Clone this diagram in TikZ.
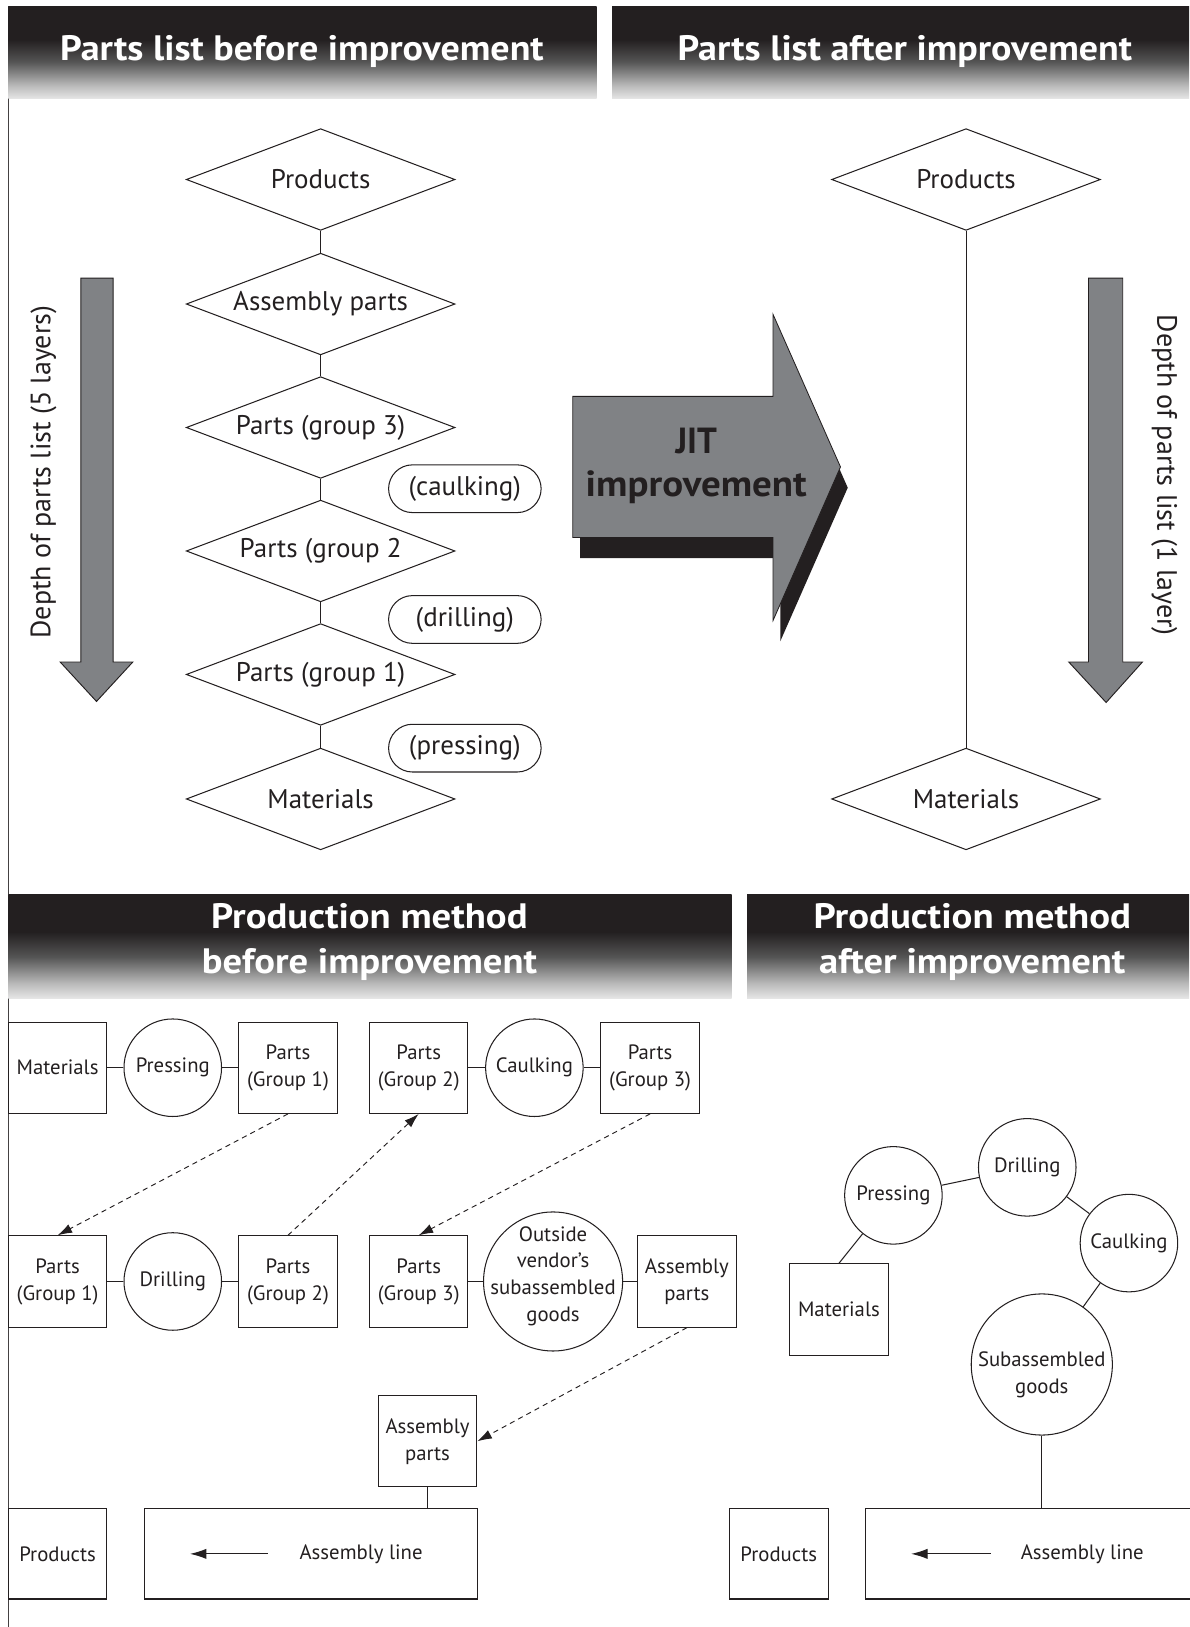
\documentclass[tikz,border=0pt]{standalone}
\usepackage{fontspec}
\usepackage{graphicx}
\setmainfont{PT Sans}
\usetikzlibrary{shapes.geometric,arrows.meta,calc}

\definecolor{ink}{HTML}{231F20}
\definecolor{steel}{HTML}{808285}

% dark-to-white band used behind the section titles
\pgfdeclareverticalshading{bandshade}{100bp}{%
  color(0bp)=(white!90!black); color(25bp)=(white!90!black);
  color(32bp)=(white!73!black); color(45bp)=(white!33!black);
  color(57bp)=(ink); color(100bp)=(ink)}

% squeeze a title line to a given width, keeping its height
\newcommand\fitline[2]{\resizebox{#1}{\height}{#2}}

\begin{document}
\begin{tikzpicture}[x=1pt,y=-1pt,
  every node/.style={text=ink},
  thin line/.style={draw=ink, line width=1pt},
  band/.style={shading=bandshade},
  bandtext/.style={text=white, font=\bfseries\fontsize{34}{43}\selectfont, align=center, inner sep=0pt},
  layer/.style={diamond, aspect=2.643, draw=ink, line width=1pt, inner sep=0pt,
    minimum width=259pt, minimum height=98pt, font=\fontsize{26}{30}\selectfont},
  pill/.style={rectangle, rounded corners=23pt, draw=ink, line width=1pt,
    minimum width=147pt, minimum height=46pt, inner sep=0pt, font=\fontsize{26}{30}\selectfont},
  depth/.style={fill=steel, draw=ink, line width=0.9pt},
  sidetext/.style={font=\fontsize{27}{30}\selectfont, inner sep=0pt},
  stock/.style={rectangle, draw=ink, line width=1pt, minimum width=95pt, minimum height=88pt,
    inner sep=0pt, align=center, font=\fontsize{20}{26}\selectfont},
  proc/.style={circle, draw=ink, line width=1pt, minimum size=94pt, inner sep=0pt,
    align=center, font=\fontsize{20}{26}\selectfont},
  flow/.style={draw=ink, line width=0.9pt, dash pattern=on 5pt off 4pt,
    -{Latex[length=14pt,width=9pt]}},
  lineflow/.style={draw=ink, line width=1.2pt, -{Latex[length=16pt,width=10pt]}},
  label/.style={font=\fontsize{20}{26}\selectfont, inner sep=0pt, align=center}
]
\useasboundingbox (0,0) rectangle (1146,1568);

% left frame edge
\draw[ink!85, line width=1.4pt] (8,6) -- (8,1568);

% ---------- title bands, upper half ----------
\path[band] (8,6) rectangle (575,95);
\path[band] (590,6) rectangle (1146,95);
\node[bandtext] (t1) at (291,50) {\fitline{466pt}{Parts list before improvement}};
\node[bandtext] (t2) at (872,50) {\fitline{438pt}{Parts list after improvement}};

% ---------- parts list before improvement ----------
\node[layer] (p1) at (309,173) {Products};
\node[layer] (a1) at (309,293) {Assembly parts};
\node[layer] (g3) at (309,412) {Parts (group 3)};
\node[layer] (g2) at (309,531) {Parts (group 2};
\node[layer] (g1) at (309,650) {Parts (group 1)};
\node[layer] (m1) at (309,770) {Materials};
\draw[thin line] (p1.south) -- (a1.north);
\draw[thin line] (a1.south) -- (g3.north);
\draw[thin line] (g3.south) -- (g2.north);
\draw[thin line] (g2.south) -- (g1.north);
\draw[thin line] (g1.south) -- (m1.north);

\node[pill] (ck) at (448,471) {(caulking)};
\node[pill] (dr) at (448,597) {(drilling)};
\node[pill] (pr) at (448,721) {(pressing)};

% depth arrow, five layers
\draw[depth] (78,268) -- (109,268) -- (109,638) -- (128,638) -- (93,676) -- (58,638) -- (78,638) -- cycle;
\node[sidetext, rotate=90] (d5) at (42,455) {Depth of parts list (5 layers)};

% ---------- JIT arrow ----------
\fill[ink] (559,402) -- (752,402) -- (752,323) -- (817,470) -- (752,618) -- (752,538) -- (559,538) -- cycle;
\draw[fill=steel, draw=ink, line width=0.8pt] (552,382) -- (745,382) -- (745,303) -- (810,450) -- (745,598) -- (745,518) -- (552,518) -- cycle;
\node[font=\bfseries\fontsize{35}{42}\selectfont, align=center, text=ink, inner sep=0pt] (jit) at (671,449)
  {\fitline{40pt}{JIT}\\\fitline{213pt}{improvement}};

% ---------- parts list after improvement ----------
\node[layer] (p2) at (931,173) {Products};
\node[layer] (m2) at (931,770) {Materials};
\draw[thin line] (p2.south) -- (m2.north);

% depth arrow, one layer
\draw[depth] (1049,268) -- (1082,268) -- (1082,638) -- (1101,638) -- (1066,677) -- (1030,638) -- (1049,638) -- cycle;
\node[sidetext, rotate=-90] (d1) at (1122,458) {Depth of parts list (1 layer)};

% ---------- title bands, lower half ----------
\path[band] (8,862) rectangle (705,962);
\path[band] (720,862) rectangle (1146,962);
\node[bandtext] (t3) at (356,908) {\fitline{305pt}{Production method}\\\fitline{323pt}{before improvement}};
\node[bandtext] (t4) at (937,908) {\fitline{306pt}{Production method}\\\fitline{295pt}{after improvement}};

% ---------- production method before improvement ----------
\node[stock] (mat1) at (55.5,1029) {Materials};
\node[proc]  (press1) at (166.5,1029) {Pressing};
\node[stock] (pg1a) at (277.5,1029) {Parts\\(Group 1)};
\node[stock] (pg2a) at (403.5,1029) {Parts\\(Group 2)};
\node[proc]  (caulk1) at (515,1029) {Caulking};
\node[stock] (pg3a) at (626.5,1029) {Parts\\(Group 3)};
\draw[thin line] (mat1) -- (press1);
\draw[thin line] (press1) -- (pg1a);
\draw[thin line] (pg2a) -- (caulk1);
\draw[thin line] (caulk1) -- (pg3a);

\node[stock] (pg1b) at (55.5,1235) {Parts\\(Group 1)};
\node[proc]  (drill1) at (166.5,1235) {Drilling};
\node[stock] (pg2b) at (277.5,1235) {Parts\\(Group 2)};
\node[stock] (pg3b) at (403.5,1235) {Parts\\(Group 3)};
\node[proc, minimum size=134pt] (vendor) at (533,1235) {};
\node[label] (vendorlbl) at (533,1230) {Outside\\vendor's\\subassembled\\goods};
\node[stock] (ap1) at (662,1235) {Assembly\\parts};
\draw[thin line] (pg3b) -- (vendor);
\draw[thin line] (vendor) -- (ap1);
\draw[thin line] (pg1b) -- (drill1);
\draw[thin line] (drill1) -- (pg2b);

\draw[flow] (pg1a.south) -- (pg1b.north);
\draw[flow] (pg2b.north) -- (pg2a.south);
\draw[flow] (pg3a.south) -- (pg3b.north);

\node[stock] (ap2) at (412,1389) {Assembly\\parts};
\draw[flow] (ap1.south) -- (ap2.east);

\node[stock, minimum height=87pt] (prod1) at (55.5,1497.5) {Products};
\node[stock, minimum width=321pt, minimum height=87pt] (line1) at (299.5,1497.5) {};
\node[label] (line1lbl) at (348,1498) {Assembly line};
\coordinate (l1s) at (258,1497.5);
\coordinate (l1e) at (183,1497.5);
\draw[lineflow] (l1s) -- (l1e);
\draw[thin line] (ap2.south) -- (ap2.south |- line1.north);

% ---------- production method after improvement ----------
\node[proc] (press2) at (861,1152) {Pressing};
\node[proc] (drill2) at (990,1125) {Drilling};
\node[proc] (caulk2) at (1088,1198) {Caulking};
\node[proc, minimum size=136pt] (sub2) at (1004,1315) {};
\node[label] (sub2lbl) at (1004,1325) {Subassembled\\goods};
\node[stock] (mat2) at (808.5,1262) {Materials};
\draw[thin line] (press2) -- (mat2.north);
\draw[thin line] (press2) -- (drill2);
\draw[thin line] (drill2) -- (caulk2);
\draw[thin line] (caulk2) -- (sub2);

\node[stock, minimum height=87pt] (prod2) at (750.5,1497.5) {Products};
\node[stock, minimum width=318pt, minimum height=87pt] (line2) at (993,1497.5) {};
\node[label] (line2lbl) at (1043,1498) {Assembly line};
\coordinate (l2s) at (955,1497.5);
\coordinate (l2e) at (878,1497.5);
\draw[lineflow] (l2s) -- (l2e);
\draw[thin line] (sub2.south) -- (sub2.south |- line2.north);
\end{tikzpicture}
\end{document}
